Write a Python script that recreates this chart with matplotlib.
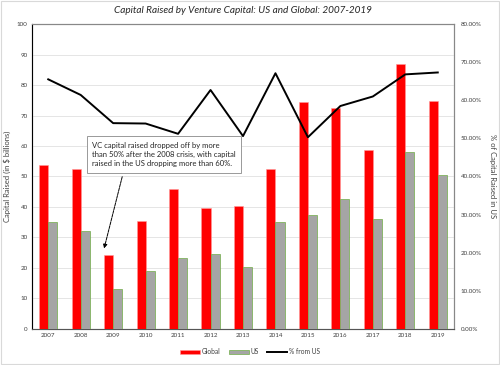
import numpy as np
import matplotlib
matplotlib.use('Agg')
import matplotlib.pyplot as plt
from matplotlib.patches import Rectangle
from matplotlib.ticker import FuncFormatter

plt.rcParams['font.family'] = ['Lato', 'DejaVu Sans']

years = ['2007', '2008', '2009', '2010', '2011', '2012', '2013',
         '2014', '2015', '2016', '2017', '2018', '2019']
global_vc = [53.8, 52.5, 24.3, 35.3, 45.8, 39.5, 40.4, 52.3, 74.5, 72.6, 58.8, 87.0, 74.9]
us_vc = [35.1, 32.2, 13.1, 19.1, 23.4, 24.7, 20.4, 34.9, 37.4, 42.7, 36.1, 58.0, 50.4]
pct_us = [65.5, 61.4, 54.0, 53.9, 51.2, 62.7, 50.6, 67.1, 50.3, 58.5, 61.0, 66.8, 67.3]

x = np.arange(len(years))
w = 0.28

fig = plt.figure(figsize=(5, 3.65), dpi=100)
ax = fig.add_axes([0.064, 0.099, 0.844, 0.835])
ax2 = ax.twinx()

ax.set_zorder(1)
ax.patch.set_visible(False)
ax2.set_zorder(0)

b1 = ax.bar(x - w/2, global_vc, w, color='#ff0000', edgecolor='#ff9999', linewidth=0.4, label='Global', zorder=3)
b2 = ax.bar(x + w/2, us_vc, w, color='#a5a5a5', edgecolor='#70ad47', linewidth=0.5, label='US', zorder=3)
ax.set_ylim(0, 100)
ax.set_xlim(-0.5, len(years) - 0.5)
ax.set_yticks(range(0, 101, 10))
ax.set_xticks(x)
ax.set_xticklabels(years)
ax.yaxis.grid(True, color='#e0e0e0', linewidth=0.6)
ax.set_axisbelow(True)
ax.tick_params(labelsize=4.5, colors='#404040', length=0, pad=3)
ax.set_ylabel('Capital Raised (in $ billions)', fontsize=5.5, color='#404040', labelpad=4)

ax2.set_ylim(0, 80)
ax2.set_yticks(range(0, 81, 10))
ax2.yaxis.set_major_formatter(FuncFormatter(lambda v, p: f'{v:.2f}%'))
ax2.tick_params(labelsize=4.5, colors='#404040', length=0, pad=5)
ax2.set_ylabel('% of Capital Raised in US', fontsize=5.5, color='#404040', rotation=270, labelpad=10)

# line drawn on ax in percentage scale mapped to ax2
line, = ax.plot(x, np.array(pct_us) * 100 / 80, color='black', linewidth=1.4, label='% from US', zorder=4)

for a in (ax, ax2):
    for s in a.spines.values():
        s.set_color('#888888')
        s.set_linewidth(0.8)
ax.spines['left'].set_color('black')
ax.spines['bottom'].set_color('#555555')

ax.set_title('Capital Raised by Venture Capital: US and Global: 2007-2019',
             fontsize=7.2, style='italic', color='#262626', pad=8)

ax.annotate('', xy=(1.7, 25.5), xytext=(2.3, 50.8),
            arrowprops=dict(arrowstyle='-|>', color='black', lw=0.7,
                            linestyle=(0, (3, 1)), mutation_scale=6), zorder=5)
ax.text(1.35, 57.2,
        'VC capital raised dropped off by more\nthan 50% after the 2008 crisis, with capital\nraised in the US dropping more than 60%.',
        fontsize=5.5, color='#262626', va='center', ha='left', linespacing=1.4,
        bbox=dict(boxstyle='square,pad=0.7', fc='white', ec='#999999', lw=0.7), zorder=6)

fig.legend(handles=[b1, b2, line], loc='lower center', bbox_to_anchor=(0.5, 0.01),
           ncol=3, frameon=False, fontsize=4.8, handlelength=3.0, handletextpad=0.3,
           columnspacing=1.2, labelcolor='#404040')

fig.patches.append(Rectangle((0.001, 0.003), 0.997, 0.994, transform=fig.transFigure,
                             fill=False, ec='#d9d9d9', lw=0.8))

fig.savefig('out.png', dpi=100)
